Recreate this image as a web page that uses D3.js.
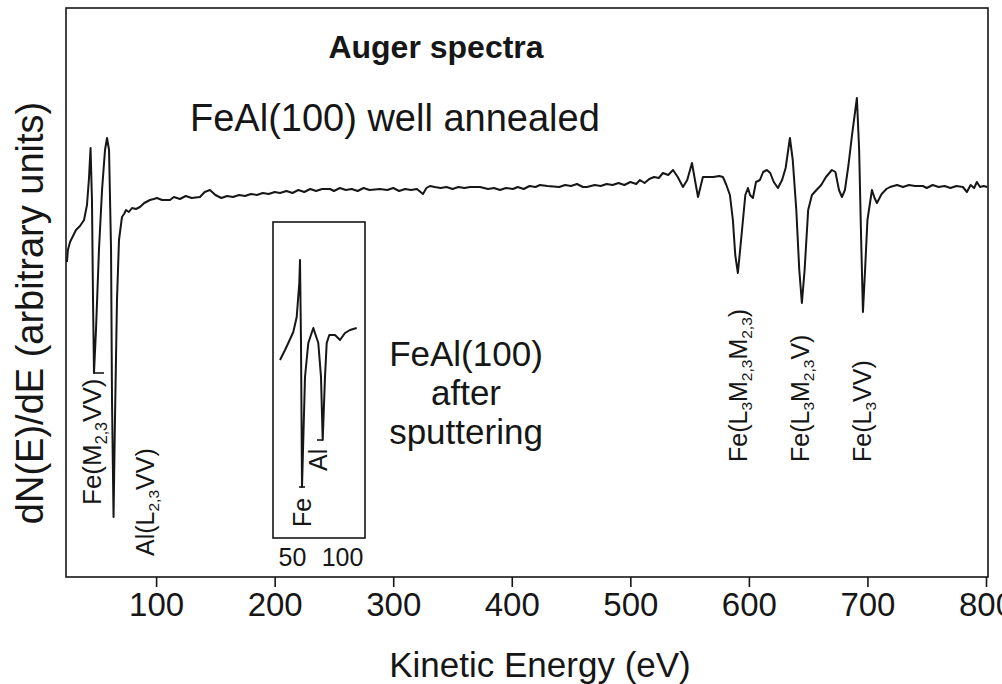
<!DOCTYPE html>
<html>
<head>
<meta charset="utf-8">
<script src="https://cdn.jsdelivr.net/npm/d3@7"></script>
<style>
  body { margin: 0; background: #fff; }
  svg { display: block; font-family: "Liberation Sans", Arial, sans-serif; }
</style>
</head>
<body>
<svg id="chart" width="1002" height="684"></svg>
<script>
// spectrum data (kinetic energy in eV, dN/dE in arbitrary units)
const mainEnergy = [24.8, 25.6, 27.4, 29.9, 32.4, 35.8, 39.2, 41.7, 43.4, 44.7, 45.9, 46.8, 47.6, 49.3, 51.8, 54.4, 56.9, 58.6, 60.3, 62.0, 62.8, 64.1, 65.3, 67.0, 68.7, 71.2, 73, 74.6, 77, 79.7, 83, 86.4, 90, 94.8, 98, 100.7, 105, 111.7, 115, 120.1, 125, 130, 137, 141, 145.4, 150, 155, 160, 164.8, 170, 175, 180, 185, 190, 195, 200, 204.5, 210, 215, 220, 225, 230, 235, 240, 246.7, 250, 255, 260, 265, 270, 275, 280, 288.8, 295, 300, 305, 310, 315, 320, 325.1, 328, 331, 335, 340, 345, 350, 355, 360, 365, 373.2, 380, 385, 390, 395, 401, 405, 410, 415, 420, 423.8, 430, 440, 445, 450, 455, 460, 463.4, 470, 475, 480, 485, 490, 495, 500, 505, 508.1, 512, 516, 520, 524, 527.5, 532, 536, 540, 544.4, 548, 552, 554.5, 557.1, 561.2, 564.6, 570, 575, 578.1, 581, 584, 586.5, 588.5, 590.7, 593, 595, 597, 599.2, 601, 603.4, 606, 609.3, 612, 615.2, 618, 621, 624.5, 628, 631, 634.6, 637, 640, 642.5, 644.7, 647, 650, 653.2, 657, 661, 665, 670, 673, 676, 678.5, 681, 684, 687, 691.1, 693, 694.5, 696.2, 698, 700, 703.8, 706, 708, 712, 716, 719, 725, 730, 735, 740, 746.8, 750, 755, 760, 765, 770, 775, 780.5, 783.9, 787, 790, 792.3, 795, 798, 801];
const mainSignal = [-7.2, -6.0, -5.2, -4.6, -4.0, -3.6, -3.0, -1.5, 1.2, 4.2, -1.0, -11.0, -18.3, -14.0, -6.0, 0, 4.0, 5.2, 4.0, -6.0, -21.0, -32.7, -23.0, -11.0, -5.0, -2.7, -2.4, -2.0, -2.2, -1.8, -1.9, -1.7, -1.3, -1.0, -0.9, -0.8, -1.0, -1.0, -0.7, -0.9, -0.6, -0.8, -0.7, -0.2, 0, -0.5, -0.8, -0.6, -0.7, -0.5, -0.6, -0.4, -0.5, -0.3, -0.4, -0.2, -0.3, -0.1, -0.3, 0, -0.2, 0.1, -0.1, 0.1, 0.1, -0.1, 0.2, 0, 0.1, -0.1, 0.2, 0, 0.1, 0, 0.2, -0.1, 0.1, 0, 0.1, -0.4, 0.2, 0.4, 0.3, 0.2, 0.3, 0.1, 0.3, 0.2, 0.3, 0.3, 0.1, 0.2, 0, 0.2, 0.1, 0.3, 0.1, 0.4, 0.3, 0.5, 0.4, 0.3, 0.5, 0.4, 0.6, 0.3, 0.3, 0.5, 0.4, 0.6, 0.5, 0.7, 0.5, 0.8, 0.6, 1.0, 0.7, 1.1, 1.3, 1.2, 1.7, 1.5, 2.0, 1.3, 0.3, 1.0, 2.7, 1.0, -0.7, 1.3, 1.3, 1.3, 1.4, 1.3, 0.5, -0.5, -3.0, -6.5, -8.3, -5.5, -3.0, -0.5, 0.2, -0.5, -0.8, 0.8, 1.0, 1.8, 2.0, 1.7, 0.8, 0.2, 1.0, 2.2, 5.2, 3.0, -2.0, -8.0, -11.3, -8.0, -2.0, -0.5, 0, 0.5, 1.3, 2.0, 1.8, 0, -0.7, 0, 2.5, 5.5, 9.2, 4.0, -4.0, -12.2, -8.0, -3.0, 0, -0.8, -1.3, -0.4, 0.1, 0.3, 0.5, 0.3, 0.5, 0.4, 0.4, 0.2, 0.5, 0.3, 0.4, 0.2, 0.4, 0.3, -0.2, 0.5, 0.2, 0.8, 0.3, 0.4, 0.3];

// inset: FeAl(100) after sputtering
const insetEnergy = [38, 43, 46.3, 51.3, 54.7, 57.3, 58, 59, 60, 63, 66.3, 71.3, 76.3, 79, 80.7, 83, 84.7, 87.3, 93, 98, 103, 108, 114.7];
const insetSignal = [-2.0, -1.0, -0.3, 0.8, 2.3, 5.7, 8.0, -0.3, -14.7, -3.7, -0.3, 1.2, -0.3, -3.7, -10.0, -3.7, -0.3, 0.5, 0.5, 0, 0.7, 1.0, 1.2];

const xTicks = [100, 200, 300, 400, 500, 600, 700, 800];
const insetTicks = [50, 100];

// peak assignments (label, energy of the feature)
const peakNames = ["Fe(M_{2,3}VV)", "Al(L_{2,3}VV)", "Fe(L_{3}M_{2,3}M_{2,3})", "Fe(L_{3}M_{2,3}V)", "Fe(L_{3}VV)"];
const peakEnergy = [45.9, 90.6, 590.7, 643, 695.3];
const insetNames = ["Fe", "Al"];
const insetEnergyLabels = [59.7, 76];

const svg = d3.select("#chart");
const ink = "#161616";

const box = {left: 66, right: 988, top: 8, bottom: 577};

const x = d3.scaleLinear().domain([24, 800]).range([box.left, 986]);
const y = d3.scaleLinear().domain([-38.7, 18.2]).range([box.bottom, box.top]);

// frame
svg.append("rect")
    .attr("x", box.left).attr("y", box.top)
    .attr("width", box.right - box.left).attr("height", box.bottom - box.top)
    .attr("fill", "none").attr("stroke", ink).attr("stroke-width", 1.6);

// bottom axis
const xAxis = svg.append("g")
    .attr("transform", "translate(0," + box.bottom + ")")
    .call(d3.axisBottom(x).tickValues(xTicks).tickSize(10).tickPadding(6).tickFormat(d3.format("d")));
xAxis.select(".domain").remove();
xAxis.selectAll("line").attr("stroke", ink).attr("stroke-width", 1.6);
xAxis.selectAll("text").attr("fill", ink).style("font-size", "33px").style("font-family", "Liberation Sans, Arial, sans-serif");

// main spectrum
const line = d3.line()
    .x((d) => x(d[0]))
    .y((d) => y(d[1]));

svg.append("path")
    .datum(d3.zip(mainEnergy, mainSignal))
    .attr("fill", "none")
    .attr("stroke", ink)
    .attr("stroke-width", 2)
    .attr("stroke-linejoin", "round")
    .attr("d", line);

// writes a label with _{...} subscripts
function richText(sel, str, size) {
    const parts = str.split(/(_\{[^}]*\})/).filter((s) => s.length);
    let down = false;
    parts.forEach((p) => {
        const t = sel.append("tspan");
        if (p.startsWith("_{")) {
            t.text(p.slice(2, -1)).style("font-size", (size * 0.62) + "px").attr("dy", size * 0.22);
            down = true;
        } else {
            t.text(p);
            if (down) { t.attr("dy", -size * 0.22); down = false; }
        }
    });
}

function vLabel(cx, bottom, str, size) {
    const t = svg.append("text")
        .attr("transform", "translate(" + cx + "," + bottom + ") rotate(-90)")
        .attr("dy", "0.36em")
        .attr("fill", ink)
        .style("font-size", size + "px");
    richText(t, str, size);
}

const peakBottoms = [505, 556, 462, 462, 462];
const peakSizes = [26, 25, 25, 25, 25];
peakNames.forEach((n, i) => vLabel(x(peakEnergy[i]), peakBottoms[i], n, peakSizes[i]));

// small leader at the Fe(M) dip
svg.append("line")
    .attr("x1", x(47.6)).attr("x2", x(47.6) + 10)
    .attr("y1", y(-18.3)).attr("y2", y(-18.3))
    .attr("stroke", ink).attr("stroke-width", 1.6);

// inset
const xi = d3.scaleLinear().domain([31, 123]).range([273, 365]);
const yi = d3.scaleLinear().domain([-19.8, 11.8]).range([538, 222]);

svg.append("rect")
    .attr("x", xi(31)).attr("y", yi(11.8))
    .attr("width", xi(123) - xi(31)).attr("height", yi(-19.8) - yi(11.8))
    .attr("fill", "none").attr("stroke", ink).attr("stroke-width", 1.6);

svg.append("path")
    .datum(d3.zip(insetEnergy, insetSignal))
    .attr("fill", "none")
    .attr("stroke", ink)
    .attr("stroke-width", 2)
    .attr("stroke-linejoin", "round")
    .attr("d", d3.line().x((d) => xi(d[0])).y((d) => yi(d[1])));

const insetAxis = svg.append("g")
    .attr("transform", "translate(0,538)")
    .call(d3.axisBottom(xi).tickValues(insetTicks).tickSize(0).tickPadding(10));
insetAxis.select(".domain").remove();
insetAxis.selectAll("text").attr("fill", ink).style("font-size", "25px").style("font-family", "Liberation Sans, Arial, sans-serif");

const insetBottoms = [527, 471];
insetNames.forEach((n, i) => vLabel(xi(insetEnergyLabels[i]), insetBottoms[i], n, 25));

// inset leaders
svg.append("line")
    .attr("x1", xi(57)).attr("x2", xi(63))
    .attr("y1", yi(-14.7)).attr("y2", yi(-14.7))
    .attr("stroke", ink).attr("stroke-width", 1.6);
svg.append("line")
    .attr("x1", xi(75)).attr("x2", xi(81))
    .attr("y1", yi(-10)).attr("y2", yi(-10))
    .attr("stroke", ink).attr("stroke-width", 1.6);

// titles and annotations
svg.append("text")
    .attr("x", 436).attr("y", 58)
    .attr("text-anchor", "middle")
    .attr("fill", ink)
    .style("font-size", "32px").style("font-weight", "bold")
    .text("Auger spectra");

svg.append("text")
    .attr("x", 190).attr("y", 131)
    .attr("fill", ink)
    .style("font-size", "38px")
    .text("FeAl(100) well annealed");

["FeAl(100)", "after", "sputtering"].forEach((s, i) => {
    svg.append("text")
        .attr("x", 466).attr("y", 366 + i * 39)
        .attr("text-anchor", "middle")
        .attr("fill", ink)
        .style("font-size", "35px")
        .text(s);
});

// axis titles
svg.append("text")
    .attr("x", 540).attr("y", 677)
    .attr("text-anchor", "middle")
    .attr("fill", ink)
    .style("font-size", "35px")
    .text("Kinetic Energy (eV)");

svg.append("text")
    .attr("transform", "translate(43,313) rotate(-90)")
    .attr("text-anchor", "middle")
    .attr("fill", ink)
    .style("font-size", "38px")
    .text("dN(E)/dE (arbitrary units)");
</script>
</body>
</html>
